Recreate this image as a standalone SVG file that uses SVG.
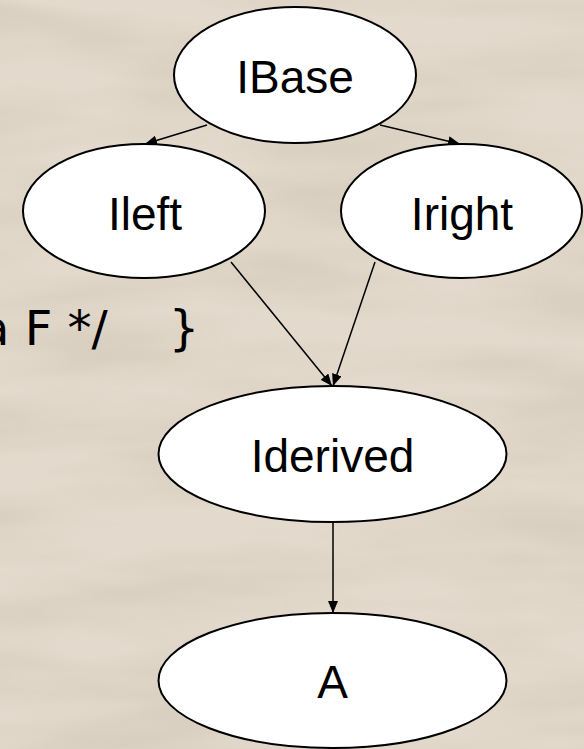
<svg xmlns="http://www.w3.org/2000/svg" width="584" height="749" viewBox="0 0 584 749">
  <defs>
    <style>
      .node ellipse { fill: #ffffff; stroke: #000000; stroke-width: 2; }
      .node text { font-family: "Liberation Sans", Arial, sans-serif; font-size: 46px; fill: #000000; text-anchor: middle; }
      .edge { stroke: #000000; stroke-width: 1.5; fill: none; marker-end: url(#arrow); }
      .code { font-family: "DejaVu Sans", "Liberation Sans", sans-serif; font-size: 48px; fill: #000000; }
    </style>
    <marker id="arrow" markerUnits="userSpaceOnUse" markerWidth="12" markerHeight="10" refX="12" refY="5" orient="auto">
      <path d="M0,0 L12,5 L0,10 z" fill="#000000"/>
    </marker>
    <filter id="paper" x="0" y="0" width="100%" height="100%">
      <feTurbulence type="fractalNoise" baseFrequency="0.004 0.02" numOctaves="3" seed="7" result="n"/>
      <feColorMatrix in="n" type="matrix" values="0 0 0 0 0.55  0 0 0 0 0.48  0 0 0 0 0.38  0 0 0 -1.6 1.05"/>
    </filter>
  </defs>
  <rect x="0" y="0" width="584" height="749" fill="#e3dacd"/>
  <rect x="0" y="0" width="584" height="749" filter="url(#paper)" opacity="0.45"/>

  <text class="code" x="-20" y="345" xml:space="preserve">a F */    }</text>

  <g id="connectors">
    <line class="edge" x1="207" y1="125" x2="145" y2="144"/>
    <line class="edge" x1="380" y1="125" x2="460" y2="144"/>
    <line class="edge" x1="231" y1="262" x2="332" y2="386"/>
    <line class="edge" x1="375" y1="262" x2="333" y2="386"/>
    <line class="edge" x1="333" y1="522" x2="333" y2="613"/>
  </g>

  <g id="IBase" class="node">
    <ellipse cx="295" cy="75" rx="121" ry="68"/>
    <text x="295" y="93">IBase</text>
  </g>
  <g id="Ileft" class="node">
    <ellipse cx="144" cy="211" rx="121" ry="67"/>
    <text x="145" y="230">Ileft</text>
  </g>
  <g id="Iright" class="node">
    <ellipse cx="461.5" cy="211" rx="120.5" ry="67"/>
    <text x="462" y="230">Iright</text>
  </g>
  <g id="Iderived" class="node">
    <ellipse cx="332.5" cy="454" rx="174" ry="68"/>
    <text x="332.5" y="472">Iderived</text>
  </g>
  <g id="A" class="node">
    <ellipse cx="332.5" cy="680.5" rx="174" ry="67.5"/>
    <text x="332.5" y="698">A</text>
  </g>
</svg>
